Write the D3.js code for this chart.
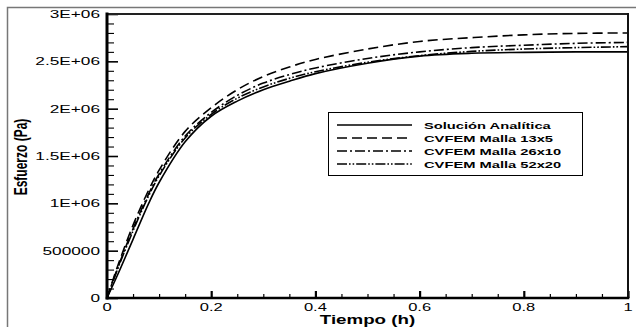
<!DOCTYPE html>
<html>
<head>
<meta charset="utf-8">
<script src="https://cdn.jsdelivr.net/npm/d3@7"></script>
<style>
  html, body { margin: 0; padding: 0; background: #fff; }
  svg { display: block; }
  text { font-family: "Liberation Sans", Arial, Helvetica, sans-serif; fill: #000; }
</style>
</head>
<body>
<svg id="chart" width="636" height="327"></svg>
<script>
// Time samples (h) and stress (Pa) for each solution
const timeH      = [0, 0.02, 0.05, 0.08, 0.10, 0.15, 0.20, 0.25, 0.30, 0.35, 0.40, 0.50, 0.60, 0.70, 0.80, 0.90, 1.00];
const analytic   = [0, 0.24e6, 0.62e6, 1.00e6, 1.22e6, 1.65e6, 1.92e6, 2.08e6, 2.20e6, 2.29e6, 2.37e6, 2.48e6, 2.555e6, 2.585e6, 2.595e6, 2.60e6, 2.60e6];
const malla13x5  = [0, 0.33e6, 0.77e6, 1.14e6, 1.35e6, 1.76e6, 2.01e6, 2.20e6, 2.34e6, 2.44e6, 2.52e6, 2.63e6, 2.71e6, 2.75e6, 2.78e6, 2.795e6, 2.80e6];
const malla26x10 = [0, 0.31e6, 0.73e6, 1.10e6, 1.31e6, 1.71e6, 1.96e6, 2.14e6, 2.27e6, 2.36e6, 2.43e6, 2.53e6, 2.60e6, 2.645e6, 2.67e6, 2.69e6, 2.70e6];
const malla52x20 = [0, 0.30e6, 0.71e6, 1.08e6, 1.29e6, 1.69e6, 1.94e6, 2.11e6, 2.23e6, 2.32e6, 2.39e6, 2.49e6, 2.56e6, 2.605e6, 2.63e6, 2.645e6, 2.655e6];

const seriesNames = ["Solución Analítica", "CVFEM Malla 13x5", "CVFEM Malla 26x10", "CVFEM Malla 52x20"];
const xTickLabels = ["0", "0.2", "0.4", "0.6", "0.8", "1"];
const yTickLabels = ["0", "500000", "1E+06", "1.5E+06", "2E+06", "2.5E+06", "3E+06"];
const xTitle = "Tiempo (h)";
const yTitle = "Esfuerzo (Pa)";

const series = [analytic, malla13x5, malla26x10, malla52x20];
const dashes = [null, "10,5", "10,3,2,3", "10,2,1.6,2,1.6,2"];

const svg = d3.select("#chart");
const plot = { left: 107, right: 628, top: 14, bottom: 298 };

const x = d3.scaleLinear().domain([0, 1]).range([plot.left, plot.right]);
const y = d3.scaleLinear().domain([0, 3e6]).range([plot.bottom, plot.top]);

// Wide glyphs: text is drawn with a horizontal stretch
const SX = 1.5;
function wideText(g, str, px, py, size, weight, anchor) {
  return g.append("text")
    .attr("transform", `translate(${px},${py}) scale(${SX},1)`)
    .attr("text-anchor", anchor || "start")
    .style("font-size", size + "px")
    .style("font-weight", weight || "normal")
    .text(str);
}

// Outer page frame
svg.append("rect")
  .attr("x", 7.5).attr("y", 7.5).attr("width", 640).attr("height", 330)
  .attr("fill", "none").attr("stroke", "#777").attr("stroke-width", 1.5);

// Curves
const line = d3.line()
  .x((d, i) => x(timeH[i]))
  .y(d => y(d))
  .curve(d3.curveCatmullRom.alpha(0.5));

const curves = svg.append("g").attr("fill", "none").attr("stroke", "#000");
series.forEach((vals, k) => {
  curves.append("path")
    .datum(vals)
    .attr("d", line)
    .attr("stroke-width", 1.6)
    .attr("stroke-dasharray", dashes[k]);
});

// Axes with inward ticks
const xMajor = d3.range(0, 1.0001, 0.2);
const xMinor = d3.range(0, 1.0001, 0.05).filter(v => Math.abs(v * 5 - Math.round(v * 5)) > 1e-6);
const yMajor = d3.range(0, 3e6 + 1, 5e5);
const yMinor = d3.range(0, 3e6 + 1, 1e5).filter(v => v % 5e5 !== 0);

const xAxisMajor = d3.axisBottom(x).tickValues(xMajor).tickSize(-7).tickFormat("");
const xAxisMinor = d3.axisBottom(x).tickValues(xMinor).tickSize(-4).tickFormat("");
const yAxisMajor = d3.axisLeft(y).tickValues(yMajor).tickSize(-11).tickFormat("");
const yAxisMinor = d3.axisLeft(y).tickValues(yMinor).tickSize(-7).tickFormat("");

[xAxisMajor, xAxisMinor].forEach((ax, i) => {
  const g = svg.append("g").attr("transform", `translate(0,${plot.bottom})`).call(ax);
  g.select(".domain").remove();
  g.selectAll("line").attr("stroke", "#000").attr("stroke-width", i === 0 ? 2.2 : 1.2);
});
[yAxisMajor, yAxisMinor].forEach((ax, i) => {
  const g = svg.append("g").attr("transform", `translate(${plot.left},0)`).call(ax);
  g.select(".domain").remove();
  g.selectAll("line").attr("stroke", "#000").attr("stroke-width", i === 0 ? 1.6 : 1.1);
});

// Plot frame
const frame = svg.append("g").attr("stroke-linecap", "square");
frame.append("line").attr("x1", plot.left).attr("x2", plot.right).attr("y1", plot.top).attr("y2", plot.top)
  .attr("stroke", "#222").attr("stroke-width", 2);
frame.append("line").attr("x1", plot.right).attr("x2", plot.right).attr("y1", plot.top).attr("y2", plot.bottom)
  .attr("stroke", "#111").attr("stroke-width", 2);
frame.append("line").attr("x1", plot.left).attr("x2", plot.right).attr("y1", plot.bottom).attr("y2", plot.bottom)
  .attr("stroke", "#000").attr("stroke-width", 2.5);
frame.append("line").attr("x1", plot.left).attr("x2", plot.left).attr("y1", plot.top).attr("y2", plot.bottom)
  .attr("stroke", "#000").attr("stroke-width", 3);

// Tick labels
const labels = svg.append("g");
xMajor.forEach((v, i) => wideText(labels, xTickLabels[i], x(v), 311, 11, "normal", "middle"));
yMajor.forEach((v, i) => wideText(labels, yTickLabels[i], 100, y(v) + 4, 11.5, "normal", "end"));

// Axis titles
wideText(labels, xTitle, (plot.left + plot.right) / 2, 324, 12.5, "bold", "middle");
labels.append("text")
  .attr("transform", `translate(27,157) rotate(-90) scale(1,${SX})`)
  .attr("text-anchor", "middle")
  .style("font-size", "12px")
  .style("font-weight", "bold")
  .text(yTitle);

// Legend
const legend = svg.append("g");
legend.append("rect")
  .attr("x", 328.5).attr("y", 112.5).attr("width", 254).attr("height", 63)
  .attr("fill", "#fff").attr("stroke", "#000").attr("stroke-width", 1);
seriesNames.forEach((name, k) => {
  const cy = 125 + k * 13;
  legend.append("line")
    .attr("x1", 337).attr("x2", 412).attr("y1", cy).attr("y2", cy)
    .attr("stroke", "#000").attr("stroke-width", 1.6)
    .attr("stroke-dasharray", dashes[k]);
  wideText(legend, name, 424, cy + 4, 9.8, "bold", "start");
});
</script>
</body>
</html>
